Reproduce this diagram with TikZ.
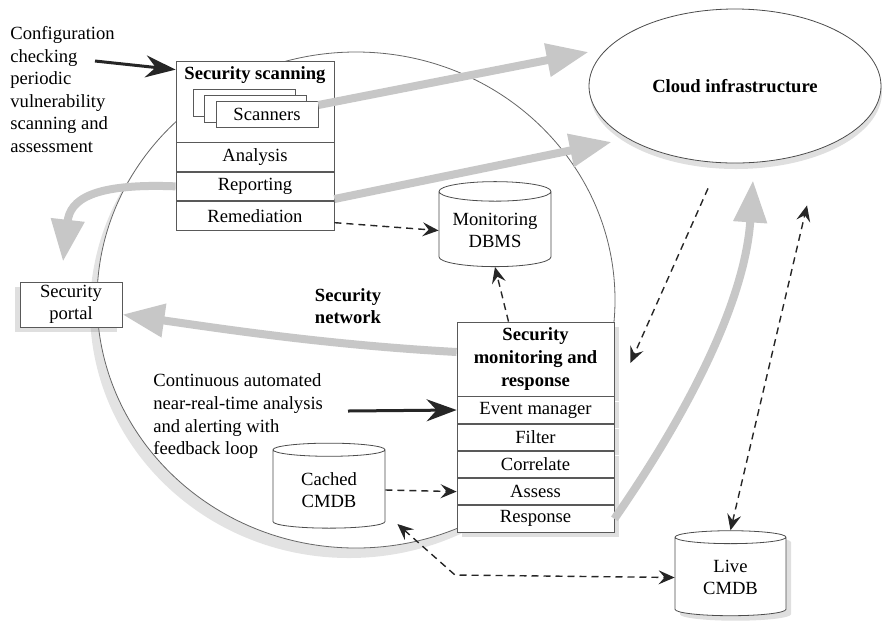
\documentclass[tikz,border=0pt]{standalone}
\usepackage{fontspec}
\setmainfont{Liberation Serif}
\usetikzlibrary{positioning,shapes.geometric,shadows,arrows.meta}

\begin{document}
\begin{tikzpicture}[
    x=0.5pt, y=-0.5pt,
    font=\fontsize{9.3}{11.3}\selectfont,
    box/.style={rectangle, draw=black!65, fill=white, inner sep=1pt, minimum width=79pt},
    row/.style={box, minimum height=14.25pt},
    mrow/.style={box, minimum width=78.5pt, minimum height=13.2pt, shadowdr},
    db/.style={cylinder, shape border rotate=90, aspect=0.22, draw=black!70, fill=white,
               minimum width=56pt, minimum height=42.5pt, align=center, inner sep=1pt},
    shadowdl/.style={drop shadow={shadow xshift=-2.5pt, shadow yshift=-2.5pt, opacity=0.25}},
    shadowdr/.style={drop shadow={shadow xshift=2.5pt, shadow yshift=-2.5pt, opacity=0.25}},
    zoneshadow/.style={drop shadow={shadow xshift=-3.5pt, shadow yshift=-5pt, opacity=0.22}},
    flow/.style={draw=black!22, line width=4pt, -{Triangle[length=21pt,width=16pt]}},
    feed/.style={draw=black!85, line width=1.5pt, -{Stealth[length=15pt,width=11pt,inset=5pt]}},
    link/.style={draw=black!85, line width=0.7pt, dash pattern=on 3.5pt off 2.5pt,
                 -{Stealth[length=8pt,width=7pt,inset=3pt]}},
    linkboth/.style={link, {Stealth[length=8pt,width=7pt,inset=3pt]}-{Stealth[length=8pt,width=7pt,inset=3pt]}}
  ]
  \useasboundingbox (0,0) rectangle (884,623);

  % zones
  \node[ellipse, draw=black!60, fill=white, minimum width=259pt, minimum height=248pt, zoneshadow] (netzone) at (356,300) {};
  \node[ellipse, draw=black!70, fill=white, minimum width=146pt, minimum height=77pt,
        drop shadow={shadow xshift=0.5pt, shadow yshift=-3pt, opacity=0.25},
        font=\fontsize{9.3}{11.3}\selectfont\bfseries] (cloud) at (735,86) {Cloud infrastructure};

  % security scanning
  \node[box, minimum height=40.5pt] (scantitle) at (255,101.5) {};
  \node[font=\fontsize{9.3}{11.3}\selectfont\bfseries, inner sep=0pt] (scantext) at (255,75) {Security scanning};
  \node[box, minimum width=51pt, minimum height=13.5pt] (scanback) at (244,102.5) {};
  \node[box, minimum width=51pt, minimum height=13.5pt] (scanmid) at (255.5,108.5) {};
  \node[box, minimum width=51pt, minimum height=13pt] (scanners) at (267,114) {Scanners};
  \node[row, below=0pt of scantitle] (analysis) {Analysis};
  \node[row, below=0pt of analysis] (reporting) {Reporting};
  \node[row, below=0pt of reporting] (remediation) {Remediation};

  % security monitoring and response
  \node[box, minimum width=78.5pt, minimum height=37pt, align=center, shadowdr,
        font=\fontsize{9.3}{11.3}\selectfont\bfseries] (montitle) at (535.5,359) {Security\\monitoring and\\response};
  \node[mrow, below=0pt of montitle] (event) {Event manager};
  \node[mrow, below=0pt of event] (filter) {Filter};
  \node[mrow, below=0pt of filter] (correlate) {Correlate};
  \node[mrow, below=0pt of correlate] (assess) {Assess};
  \node[mrow, below=0pt of assess] (response) {Response};

  % stores and portal
  \node[db] (dbms) at (495,230.5) {Monitoring\\DBMS};
  \node[db] (cached) at (329,490) {Cached\\CMDB};
  \node[db, minimum width=55.5pt, shadowdr] (live) at (730.5,577.5) {Live\\CMDB};
  \node[box, minimum width=51pt, minimum height=22.5pt, align=center, shadowdl] (portal) at (71,304.5) {Security\\portal};

  % texts
  \node[align=center, inner sep=0pt, font=\fontsize{9.3}{11.3}\selectfont\bfseries] (netlabel) at (348,306) {Security\\network};
  \node[anchor=north west, align=left, inner sep=0pt] (cfgtext) at (10,26) {Configuration\\checking\\periodic\\vulnerability\\scanning and\\assessment};
  \node[anchor=north west, align=left, inner sep=0pt] (conttext) at (153,373.5) {Continuous automated\\near-real-time analysis\\and alerting with\\feedback loop};

  % wide grey flows
  \draw[flow] ([yshift=4.5pt]scanners.east) -- ([yshift=17pt]cloud.west);
  \draw[flow] ([yshift=1pt]reporting.south east) -- ([xshift=11.5pt,yshift=-28pt]cloud.west);
  \draw[flow] (reporting.west) .. controls (92,183) and (70,200) .. ([xshift=-4pt,yshift=10pt]portal.north);
  \draw[flow] ([yshift=3.5pt]montitle.west) .. controls (330,345) and (230,330) .. ([yshift=-5pt]portal.east);
  \draw[flow] (response.east) .. controls (690,410) and (745,300) .. ([xshift=9pt,yshift=-8.5pt]cloud.south);

  % inputs
  \coordinate (cfgtail) at (95,61);
  \draw[feed] (cfgtail) -- ([yshift=-4.5pt]scantitle.north west);
  \coordinate (conttail) at (348,411);
  \draw[feed] (conttail) -- (event.west);

  % dashed links
  \draw[link] ([yshift=-3.5pt]remediation.east) -- (dbms.west);
  \draw[link] ([xshift=-13.5pt]montitle.north) -- (dbms.south);
  \draw[link] ([xshift=-13.5pt,yshift=-12.5pt]cloud.south) -- ([xshift=8pt,yshift=-2pt]montitle.east);
  \draw[linkboth] (live.north) -- ([xshift=36pt,yshift=-21pt]cloud.south);
  \draw[link] (cached.east) -- (assess.west);
  \draw[linkboth] ([xshift=6pt,yshift=-17pt]cached.east) -- (455,575) -- (live.west);
\end{tikzpicture}
\end{document}
